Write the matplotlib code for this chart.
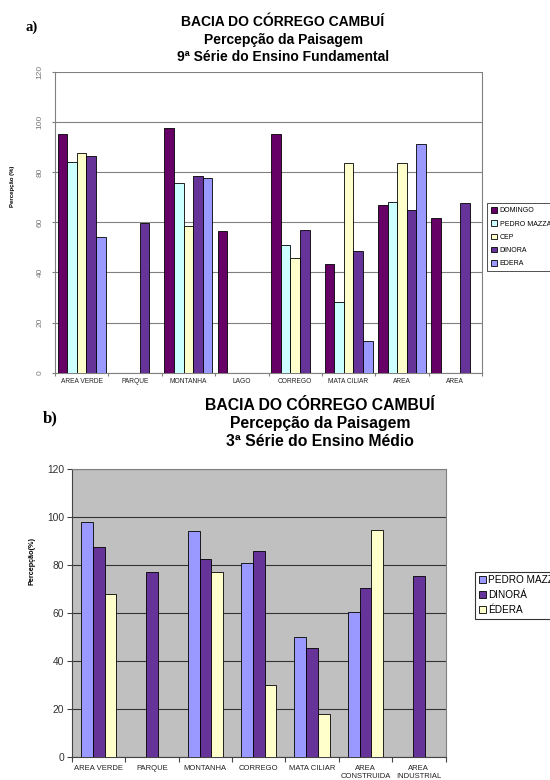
import matplotlib
matplotlib.use("Agg")
import matplotlib.pyplot as plt
from matplotlib.patches import Patch
import numpy as np

plt.rcParams["font.family"] = ["Liberation Sans", "DejaVu Sans"]

nan = np.nan

# (a) 9a serie do Ensino Fundamental
CATS_A = ["AREA VERDE", "PARQUE", "MONTANHA", "LAGO", "CORREGO",
          "MATA CILIAR", "AREA", "AREA"]
SERIES_A = ["DOMINGO", "PEDRO MAZZA", "CEP", "DINORA", "EDERA"]
DOMINGO_A = [95, nan, 97.5, 56.5, 95, 43.5, 67, 61.5]
PEDRO_A = [84, nan, 75.5, nan, 51, 28, 68, nan]
CEP_A = [87.5, nan, 58.5, nan, 45.5, 83.5, 83.5, nan]
DINORA_A = [86.5, 59.5, 78.5, nan, 57, 48.5, 65, 67.5]
EDERA_A = [54, nan, 77.5, nan, nan, 12.5, 91, nan]
COLORS_A = ["#660066", "#ccffff", "#ffffcc", "#663399", "#9999ff"]

# (b) 3a serie do Ensino Medio
CATS_B = ["AREA VERDE", "PARQUE", "MONTANHA", "CORREGO", "MATA CILIAR",
          "AREA\nCONSTRUIDA", "AREA\nINDUSTRIAL"]
SERIES_B = ["PEDRO MAZZA", "DINORÁ", "ÉDERA"]
PEDRO_B = [98, nan, 94, 81, 50, 60.5, nan]
DINORA_B = [87.5, 77, 82.5, 86, 45.5, 70.5, 75.5]
EDERA_B = [68, nan, 77, 30, 18, 94.5, nan]
COLORS_B = ["#9999ff", "#663399", "#ffffcc"]

W, H = 550, 780


def fig_rect(left, top, right, bottom):
    """Pixel box -> figure fraction rect for add_axes."""
    return [left / W, 1 - bottom / H, (right - left) / W, (bottom - top) / H]


def grouped_bars(ax, series, colors, width):
    n = len(series)
    centers = np.arange(len(series[0])) + 0.5
    for i, (vals, col) in enumerate(zip(series, colors)):
        off = (i - (n - 1) / 2) * width
        ax.bar(centers + off, vals, width=width, color=col,
               edgecolor="black", linewidth=0.6, zorder=3)
    return centers


def setup_axis(ax, cats, grid_color, tick_color, label_size, label_pad, tick_len):
    n = len(cats)
    ax.set_xlim(0, n)
    ax.set_ylim(0, 120)
    ax.set_yticks(np.arange(0, 121, 20))
    ax.set_xticks(np.arange(0, n + 1))
    ax.set_xticklabels([])
    ax.set_xticks(np.arange(n) + 0.5, minor=True)
    ax.set_xticklabels(cats, minor=True, fontsize=label_size, color="#222",
                       linespacing=1.3)
    ax.tick_params(axis="x", which="minor", length=0, pad=label_pad)
    ax.tick_params(axis="x", which="major", length=tick_len, color=tick_color,
                   width=0.8)
    ax.tick_params(axis="y", length=tick_len, color=tick_color, width=0.8)
    ax.grid(axis="y", color=grid_color, linewidth=0.8, zorder=1)
    ax.set_axisbelow(True)
    for side in ("left", "bottom", "right", "top"):
        ax.spines[side].set_color(tick_color)
        ax.spines[side].set_linewidth(0.8)


fig = plt.figure(figsize=(W / 100, H / 100), dpi=100)

# ---- panel a
ax_a = fig.add_axes(fig_rect(55, 71.5, 482, 372.7))
grouped_bars(ax_a, [DOMINGO_A, PEDRO_A, CEP_A, DINORA_A, EDERA_A], COLORS_A, 0.18)
setup_axis(ax_a, CATS_A, "#808080", "#808080", 4.8, 3.6, 2.2)
ax_a.spines["top"].set_visible(False)
ax_a.tick_params(axis="y", labelsize=6, labelcolor="#777", pad=6)
for lbl in ax_a.get_yticklabels():
    lbl.set_rotation(90)
    lbl.set_va("center")
fig.text(13 / W, 1 - 186 / H, "Percepção (%)", rotation=90, fontsize=4.3,
         fontweight="bold", ha="center", va="center")

for y, txt in zip([22, 40, 57], ["BACIA DO CÓRREGO CAMBUÍ", "Percepção da Paisagem",
                                 "9ª Série do Ensino Fundamental"]):
    fig.text(283 / W, 1 - y / H, txt, fontsize=10, fontweight="bold",
             ha="center", va="center")
fig.text(32 / W, 1 - 27 / H, "a)", family=["Liberation Serif", "DejaVu Serif"],
         fontsize=10.5, fontweight="bold", ha="center", va="center")

handles_a = [Patch(facecolor=c, edgecolor="black", linewidth=0.6) for c in COLORS_A]
leg_a = fig.legend(handles_a, SERIES_A, loc="upper left",
                   bbox_to_anchor=(487 / W, 1 - 203 / H), fontsize=5,
                   frameon=True, fancybox=False, edgecolor="black",
                   handlelength=0.9, handleheight=0.9, handletextpad=0.3,
                   labelspacing=0.85, borderpad=0.6, borderaxespad=0)
leg_a.get_frame().set_linewidth(0.6)

# ---- panel b
ax_b = fig.add_axes(fig_rect(72, 469, 445.5, 757.3))
ax_b.set_facecolor("#c0c0c0")
grouped_bars(ax_b, [PEDRO_B, DINORA_B, EDERA_B], COLORS_B, 0.22)
setup_axis(ax_b, CATS_B, "#333333", "#444444", 5.5, 5.5, 3.6)
ax_b.spines["top"].set_color("#808080")
ax_b.spines["right"].set_color("#808080")
ax_b.tick_params(axis="y", labelsize=7.4, labelcolor="#333", pad=2)
fig.text(32 / W, 1 - 561 / H, "Percepção(%)", rotation=90, fontsize=5.2,
         fontweight="bold", ha="center", va="center")

for y, txt in zip([405, 423.3, 441.7], ["BACIA DO CÓRREGO CAMBUÍ", "Percepção da Paisagem",
                                        "3ª Série do Ensino Médio"]):
    fig.text(320 / W, 1 - y / H, txt, fontsize=11.3, fontweight="bold",
             ha="center", va="center")
fig.text(50 / W, 1 - 418 / H, "b)", family=["Liberation Serif", "DejaVu Serif"],
         fontsize=12, fontweight="bold", ha="center", va="center")

handles_b = [Patch(facecolor=c, edgecolor="black", linewidth=0.6) for c in COLORS_B]
leg_b = fig.legend(handles_b, SERIES_B, loc="upper left",
                   bbox_to_anchor=(475 / W, 1 - 571.7 / H), fontsize=7.2,
                   frameon=True, fancybox=False, edgecolor="black",
                   handlelength=0.7, handleheight=0.7, handletextpad=0.3,
                   labelspacing=0.5, borderpad=0.35, borderaxespad=0)
leg_b.get_frame().set_linewidth(0.8)

fig.savefig("out.png", dpi=100)
